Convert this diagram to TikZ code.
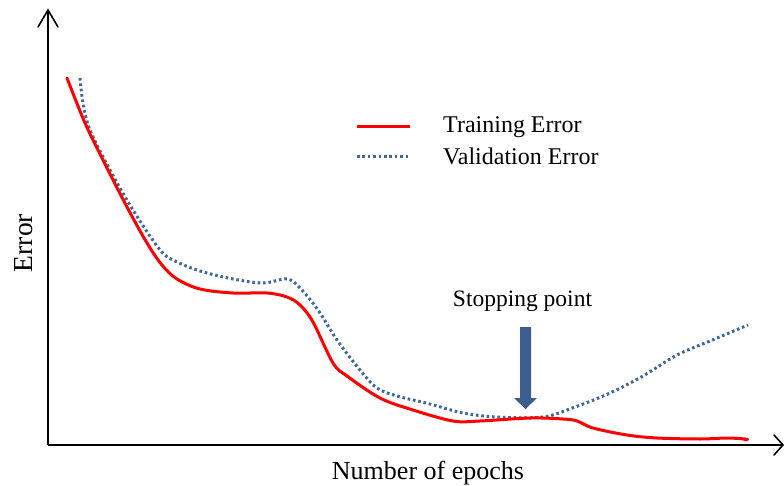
\documentclass[tikz,border=0pt]{standalone}
\usepackage{fontspec}
\setmainfont{Liberation Serif}
\usetikzlibrary{calc}
\definecolor{trainred}{HTML}{FF0000}
\definecolor{valblue}{HTML}{41679A}
\definecolor{arrowblue}{HTML}{3B5E8C}
\tikzset{
  axisline/.style={line width=2pt, black},
  axishead/.style={line width=1.6pt, black, line cap=round, line join=miter},
  traincurve/.style={trainred, line width=3pt, line cap=round},
  valcurve/.style={valblue, line width=3pt, dash pattern=on 2.6pt off 2.8pt},
  label/.style={inner sep=0pt, font=\fontsize{24}{28}\selectfont},
}
\begin{document}
\begin{tikzpicture}[x=1pt, y=-1pt]
\useasboundingbox (0,0) rectangle (784,486);

% axes
\coordinate (origin) at (48,445);
\coordinate (ytip) at (48,10);
\coordinate (xtip) at (783,445);
\draw[axisline] (origin) -- (ytip);
\draw[axisline] (origin) -- (xtip);
\draw[axishead] ($(ytip)+(-10,17)$) -- (ytip) -- ($(ytip)+(10,17)$);
\draw[axishead] ($(xtip)+(-9,-10)$) -- (xtip) -- ($(xtip)+(-9,10)$);

% axis titles
\node[label, font=\fontsize{27.5}{30}\selectfont, rotate=90] (ylab) at (24,243) {Error};
\node[label, font=\fontsize{26}{30}\selectfont, anchor=base] (xlab) at (428,479) {Number of epochs};

% validation error
\draw[valcurve] plot[smooth, tension=0.55] coordinates {
  (80,78) (83,103) (90,130) (110,170) (133,210) (160,250) (175,261)
  (200,271) (233,279) (263,283) (287,279) (300,288) (318,310)
  (337,340) (360,370) (377,388) (397,396) (430,404) (463,413)
  (497,417) (543,417) (575,407) (610,393) (643,376) (677,355)
  (710,341) (748,325)};

% training error
\draw[traincurve] plot[smooth, tension=0.55] coordinates {
  (67,78) (85,123) (103,160) (127,207) (147,243) (162,265) (177,279)
  (200,289) (233,293) (267,293) (287,297) (300,305) (313,322)
  (333,363) (347,376) (380,398) (413,410) (453,421) (480,421)
  (530,418) (563,419) (577,421) (593,428) (627,435) (657,438)
  (700,439) (727,438) (745,439)};
\fill[trainred] (746,439.5) ellipse (3pt and 1.8pt);

% legend
\coordinate (lgA) at (357,127);
\coordinate (lgB) at (410,127);
\coordinate (lgC) at (357,157);
\coordinate (lgD) at (410,157);
\draw[trainred, line width=3pt] (lgA) -- (lgB);
\draw[valcurve] (lgC) -- (lgD);
\node[label, anchor=base west] (lgtrain) at (443,133) {Training Error};
\node[label, anchor=base west] (lgval) at (443,165) {Validation Error};

% stopping point marker
\node[label, font=\fontsize{23.5}{27}\selectfont, anchor=base] (stoplab) at (522.5,306) {Stopping point};
\coordinate (stoptip) at (525.5,409);
\fill[arrowblue] (520,327) -- (531,327) -- (531,398) -- (537,398)
  -- (stoptip) -- (514,398) -- (520,398) -- cycle;
\end{tikzpicture}
\end{document}
